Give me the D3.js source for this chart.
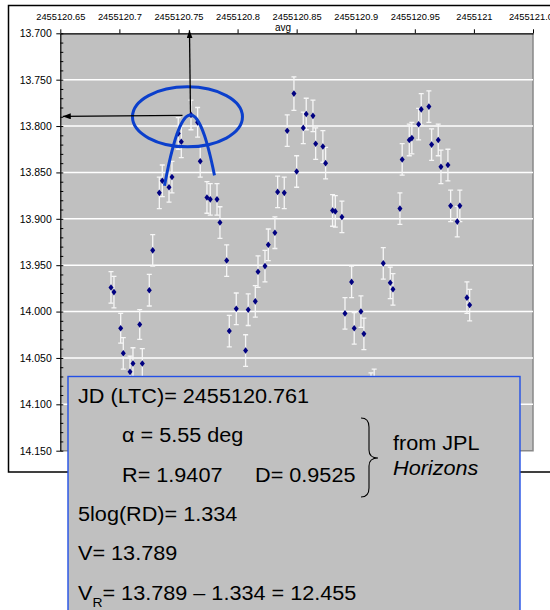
<!DOCTYPE html>
<html>
<head>
<meta charset="utf-8">
<script src="https://cdn.jsdelivr.net/npm/d3@7"></script>
<style>
  body { margin: 0; background: #fff; }
  svg text { font-family: "Liberation Sans", Arial, sans-serif; fill: #000; }
</style>
</head>
<body>
<div id="chart"></div>
<script>
// Julian dates of the observations (light-time corrected)
const jd = [
  2455120.6929, 2455120.6954, 2455120.7011, 2455120.7033, 2455120.7090, 2455120.7115,
  2455120.7172, 2455120.7194, 2455120.7253, 2455120.7282, 2455120.7338, 2455120.7363,
  2455120.7420, 2455120.7445, 2455120.7498, 2455120.7524, 2455120.7606, 2455120.7662,
  2455120.7684, 2455120.7741, 2455120.7769, 2455120.7826, 2455120.7851, 2455120.7908,
  2455120.7930, 2455120.7989, 2455120.8068, 2455120.8090, 2455120.8150, 2455120.8173,
  2455120.8232, 2455120.8260, 2455120.8316, 2455120.8339, 2455120.8395, 2455120.8420,
  2455120.8477, 2455120.8500, 2455120.8556, 2455120.8581, 2455120.8638, 2455120.8661,
  2455120.8722, 2455120.8745, 2455120.8804, 2455120.8827, 2455120.8883, 2455120.8909,
  2455120.8965, 2455120.8987, 2455120.9044, 2455120.9069, 2455120.9129, 2455120.9156,
  2455120.9233, 2455120.9292, 2455120.9315, 2455120.9374, 2455120.9393, 2455120.9453,
  2455120.9475, 2455120.9532, 2455120.9554, 2455120.9619, 2455120.9642, 2455120.9698,
  2455120.9721, 2455120.9780, 2455120.9803, 2455120.9859, 2455120.9881, 2455120.9941,
  2455120.9964
];

// averaged V magnitudes
const mag = [
  13.974, 13.979, 14.018, 14.045, 14.065, 14.056,
  14.014, 14.056, 13.977, 13.934, 13.872, 13.859,
  13.866, 13.855, 13.808, 13.817, 13.788, 13.796,
  13.838, 13.877, 13.879, 13.879, 13.904, 13.945,
  14.021, 13.997, 14.042, 13.998, 13.989, 13.957,
  13.951, 13.928, 13.915, 13.871, 13.872, 13.805,
  13.765, 13.849, 13.802, 13.787, 13.789, 13.819,
  13.822, 13.840, 13.891, 13.892, 13.898, 14.002,
  13.968, 14.018, 14.000, 14.024, 14.083, 14.079,
  13.948, 13.969, 13.976, 13.889, 13.836, 13.815,
  13.813, 13.798, 13.782, 13.779, 13.820, 13.815,
  13.844, 13.842, 13.886, 13.903, 13.886, 13.985,
  13.993
];

// one-sigma errors
const magErr = [
  0.017, 0.017, 0.016, 0.017, 0.017, 0.017,
  0.016, 0.016, 0.017, 0.017, 0.017, 0.017,
  0.016, 0.017, 0.017, 0.017, 0.016, 0.016,
  0.017, 0.017, 0.017, 0.017, 0.017, 0.017,
  0.017, 0.017, 0.017, 0.017, 0.017, 0.017,
  0.017, 0.017, 0.017, 0.017, 0.017, 0.017,
  0.018, 0.017, 0.017, 0.017, 0.017, 0.017,
  0.017, 0.017, 0.017, 0.017, 0.017, 0.017,
  0.017, 0.017, 0.017, 0.017, 0.017, 0.017,
  0.017, 0.017, 0.017, 0.017, 0.017, 0.017,
  0.017, 0.017, 0.017, 0.017, 0.017, 0.017,
  0.018, 0.017, 0.017, 0.0165, 0.017, 0.017,
  0.017
];

const xTicks = [2455120.65, 2455120.70, 2455120.75, 2455120.80, 2455120.85,
                2455120.90, 2455120.95, 2455121.00, 2455121.05];
const xTickLabels = ['2455120.65', '2455120.7', '2455120.75', '2455120.8', '2455120.85',
                     '2455120.9', '2455120.95', '2455121', '2455121.05'];
const yTicks = [13.70, 13.75, 13.80, 13.85, 13.90, 13.95, 14.00, 14.05, 14.10, 14.15];

// read-off of the maximum
const peakJD = 2455120.761;
const peakV = 13.789;

const width = 550;
const height = 610;
const plot = { left: 60.3, right: 533, top: 33.3, bottom: 450.7 };

const x = d3.scaleLinear().domain([2455120.65, 2455121.05]).range([plot.left, plot.right]);
const y = d3.scaleLinear().domain([13.70, 14.15]).range([plot.top, plot.bottom]);

const svg = d3.select('#chart')
  .append('svg')
  .attr('width', width)
  .attr('height', height);

const defs = svg.append('defs');
defs.append('marker')
  .attr('id', 'arrow')
  .attr('viewBox', '0 0 8 6')
  .attr('refX', 8)
  .attr('refY', 3)
  .attr('markerWidth', 8)
  .attr('markerHeight', 6)
  .attr('markerUnits', 'userSpaceOnUse')
  .attr('orient', 'auto')
  .append('path')
  .attr('d', 'M0,0 L8,3 L0,6 Z')
  .attr('fill', '#000');

// chart frame
svg.append('rect')
  .attr('x', 8.5).attr('y', 5.5)
  .attr('width', 600).attr('height', 466.5)
  .attr('fill', '#fff')
  .attr('stroke', '#000')
  .attr('stroke-width', 1.5);

// plot area
svg.append('rect')
  .attr('x', plot.left).attr('y', plot.top)
  .attr('width', plot.right - plot.left).attr('height', plot.bottom - plot.top)
  .attr('fill', '#c0c0c0');
svg.append('path')
  .attr('d', `M${plot.right},${plot.top} V${plot.bottom} H${plot.left}`)
  .attr('fill', 'none')
  .attr('stroke', '#888')
  .attr('stroke-width', 1.5);

// gridlines
svg.append('g')
  .selectAll('line')
  .data(yTicks.slice(1, -1))
  .enter()
  .append('line')
  .attr('x1', plot.left).attr('x2', plot.right)
  .attr('y1', d => y(d)).attr('y2', d => y(d))
  .attr('stroke', '#fff')
  .attr('stroke-width', 1.5);

// top axis
const xAxis = svg.append('g')
  .attr('transform', `translate(0,${plot.top})`)
  .call(d3.axisTop(x)
    .tickValues(xTicks)
    .tickFormat((d, i) => xTickLabels[i])
    .tickSize(4)
    .tickSizeOuter(0)
    .tickPadding(9));
xAxis.selectAll('text').style('font-size', '9.3px');

svg.append('text')
  .attr('x', 283).attr('y', 31)
  .attr('text-anchor', 'middle')
  .style('font-size', '10px')
  .text('avg');

// left axis with minor ticks
const yAxis = svg.append('g')
  .attr('transform', `translate(${plot.left},0)`)
  .call(d3.axisLeft(y)
    .tickValues(yTicks)
    .tickFormat(d3.format('.3f'))
    .tickSize(4)
    .tickSizeOuter(0)
    .tickPadding(4.5));
yAxis.selectAll('text').style('font-size', '10.5px');

svg.append('g')
  .attr('transform', `translate(${plot.left},0)`)
  .call(d3.axisRight(y)
    .tickValues(y.ticks(45))
    .tickFormat('')
    .tickSize(3)
    .tickSizeOuter(0))
  .select('.domain').remove();

svg.selectAll('.domain').attr('stroke-width', 1.2);

// observations
const obs = jd.map((d, i) => ({ jd: d, v: mag[i], e: magErr[i] }));

const bars = svg.append('g')
  .attr('stroke', '#f6f6f6')
  .attr('stroke-width', 1.3)
  .attr('fill', 'none');
bars.selectAll('path')
  .data(obs)
  .enter()
  .append('path')
  .attr('d', d => {
    const cx = x(d.jd), y1 = y(d.v - d.e), y2 = y(d.v + d.e);
    return `M${cx},${y1} V${y2} M${cx - 2.5},${y1} H${cx + 2.5} M${cx - 2.5},${y2} H${cx + 2.5}`;
  });

svg.append('g')
  .selectAll('path')
  .data(obs)
  .enter()
  .append('path')
  .attr('transform', d => `translate(${x(d.jd)},${y(d.v)})`)
  .attr('d', 'M0,-3.3 L2.5,0 L0,3.3 L-2.5,0 Z')
  .attr('fill', '#000080');

// annotation: ellipse round the maximum and a sketched parabola
const px = x(peakJD);
const py = y(peakV);
const blue = '#0b3fcc';

svg.append('ellipse')
  .attr('cx', px - 4).attr('cy', py + 1)
  .attr('rx', 55).attr('ry', 30)
  .attr('fill', 'none')
  .attr('stroke', blue)
  .attr('stroke-width', 3);

const arc = d3.range(-26, 25, 2).map(t => [px - 1 + t, py - 1 + 0.105 * t * t]);
svg.append('path')
  .attr('d', d3.line().curve(d3.curveBasis)(arc))
  .attr('fill', 'none')
  .attr('stroke', blue)
  .attr('stroke-width', 3);

// arrows to the axes
svg.append('line')
  .attr('x1', px - 1).attr('y1', py - 3)
  .attr('x2', px - 2).attr('y2', plot.top - 3)
  .attr('stroke', '#000').attr('stroke-width', 1.3)
  .attr('marker-end', 'url(#arrow)');
svg.append('line')
  .attr('x1', px - 9).attr('y1', py - 0.5)
  .attr('x2', plot.left + 2.5).attr('y2', py + 0.5)
  .attr('stroke', '#000').attr('stroke-width', 1.3)
  .attr('marker-end', 'url(#arrow)');

// info box
svg.append('rect')
  .attr('x', 68).attr('y', 376.5)
  .attr('width', 452).attr('height', 300)
  .attr('fill', '#c0c0c0')
  .attr('stroke', '#2350e6')
  .attr('stroke-width', 1.4);

function boxText(tx, ty, str, italic) {
  return svg.append('text')
    .attr('transform', `translate(${tx},${ty}) scale(1.11,1)`)
    .style('font-size', '19.5px')
    .style('font-style', italic ? 'italic' : 'normal')
    .text(str);
}

boxText(78, 403, 'JD (LTC)= 2455120.761');
boxText(122, 442, 'α = 5.55 deg');
boxText(122, 481.5, 'R= 1.9407');
boxText(255, 481.5, 'D= 0.9525');
boxText(393, 450, 'from JPL');
boxText(393, 475, 'Horizons', true);
boxText(78, 521, '5log(RD)= 1.334');
boxText(78, 560, 'V= 13.789');

const vr = boxText(78, 600, 'V');
vr.append('tspan').attr('dy', 6.5).style('font-size', '12.5px').text('R');
vr.append('tspan').attr('dy', -6.5).text('= 13.789 – 1.334 = 12.455');

// curly brace
svg.append('path')
  .attr('d', 'M361,418 Q369,418 369,427 L369,450 Q369,458 378,458 Q369,458 369,466 L369,488 Q369,497 361,497')
  .attr('fill', 'none')
  .attr('stroke', '#000')
  .attr('stroke-width', 1.1);
</script>
</body>
</html>
